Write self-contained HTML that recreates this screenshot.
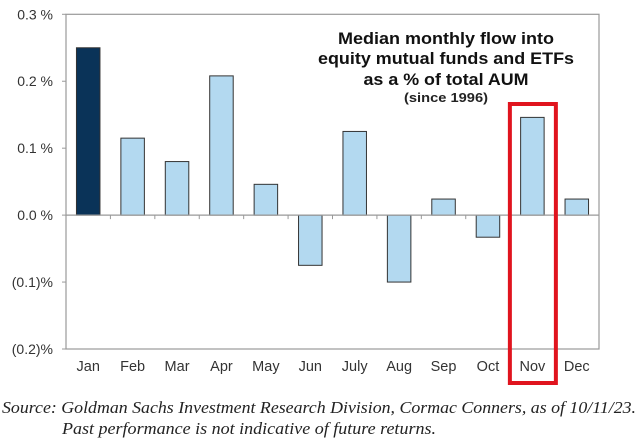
<!DOCTYPE html>
<html><head><meta charset="utf-8"><style>
html,body{margin:0;padding:0;background:#fff;width:640px;height:443px;overflow:hidden}
svg text{font-family:"Liberation Sans",Arial,sans-serif}
</style></head><body>
<svg id="chart" width="640" height="443" xmlns="http://www.w3.org/2000/svg">
<g id="plot"></g>
<text x="446" y="44" text-anchor="middle" font-size="17" font-weight="bold" fill="#111" textLength="216" lengthAdjust="spacingAndGlyphs">Median monthly flow into</text>
<text x="446" y="64" text-anchor="middle" font-size="17" font-weight="bold" fill="#111" textLength="256" lengthAdjust="spacingAndGlyphs">equity mutual funds and ETFs</text>
<text x="446" y="85" text-anchor="middle" font-size="17" font-weight="bold" fill="#111" textLength="165" lengthAdjust="spacingAndGlyphs">as a % of total AUM</text>
<text x="446" y="102" text-anchor="middle" font-size="12.5" font-weight="bold" fill="#222" textLength="84" lengthAdjust="spacingAndGlyphs">(since 1996)</text>
<text x="2" y="413" font-size="16.5" font-style="italic" fill="#222" style="font-family:'Liberation Serif',serif" textLength="634" lengthAdjust="spacingAndGlyphs">Source: Goldman Sachs Investment Research Division, Cormac Conners, as of 10/11/23.</text>
<text x="62" y="434" font-size="16.5" font-style="italic" fill="#222" style="font-family:'Liberation Serif',serif" textLength="374" lengthAdjust="spacingAndGlyphs">Past performance is not indicative of future returns.</text>
</svg>
<script>
const months=["Jan","Feb","Mar","Apr","May","Jun","July","Aug","Sep","Oct","Nov","Dec"];
const values=[0.25,0.115,0.08,0.208,0.046,-0.075,0.125,-0.10,0.024,-0.033,0.146,0.024];
const yTicks=[0.3,0.2,0.1,0.0,-0.1,-0.2];
const yTickLabels=["0.3 %","0.2 %","0.1 %","0.0 %","(0.1)%","(0.2)%"];
const highlightMonth="Nov";
const NS="http://www.w3.org/2000/svg";
const L=66,R=599,T=14.3,B=349;
const yMin=-0.2,yMax=0.3;
function y(v){return B-(v-yMin)/(yMax-yMin)*(B-T);}
const band=(R-L)/months.length;
function x(i){return L+band*i+band/2;}
const g=document.getElementById('plot');
function mk(tag,attrs){const e=document.createElementNS(NS,tag);for(const k in attrs)e.setAttribute(k,attrs[k]);g.appendChild(e);return e;}
const frame=mk('rect',{x:L,y:T,width:R-L,height:B-T,fill:'none',stroke:'#999','stroke-width':1.2});


yTicks.forEach((t,i)=>{
 const tk=mk('line',{x1:L-4,x2:L,y1:y(t),y2:y(t),stroke:'#999'});
 
 
 const lb=mk('text',{x:53,y:y(t)+5,'text-anchor':'end','font-size':14,fill:'#333'});
 lb.textContent=yTickLabels[i];
 
 
});
values.forEach((v,i)=>{
 const top=Math.min(y(v),y(0)),h=Math.abs(y(v)-y(0));
 const b=mk('rect',{x:x(i)-11.75,y:top,width:23.5,height:h,fill:i===0?'#0a3358':'#b3d9f0',stroke:'#333','stroke-width':1});
 
 
 const lb=mk('text',{x:x(i),y:371,'text-anchor':'middle','font-size':14.5,fill:'#333'});
 lb.textContent=months[i];
 
 
});
const zl=mk('line',{x1:L,x2:R,y1:y(0),y2:y(0),stroke:'#999','stroke-width':1.2});


for(let i=1;i<months.length;i++){
 const t=mk('line',{x1:L+band*i,x2:L+band*i,y1:y(0),y2:y(0)+4,stroke:'#999'});
 
 
}
const hi=months.indexOf(highlightMonth);
const box=mk('rect',{x:x(hi)-22.5,y:104,width:46,height:279,fill:'none',stroke:'#e0141e','stroke-width':4});


</script>
</body></html>
